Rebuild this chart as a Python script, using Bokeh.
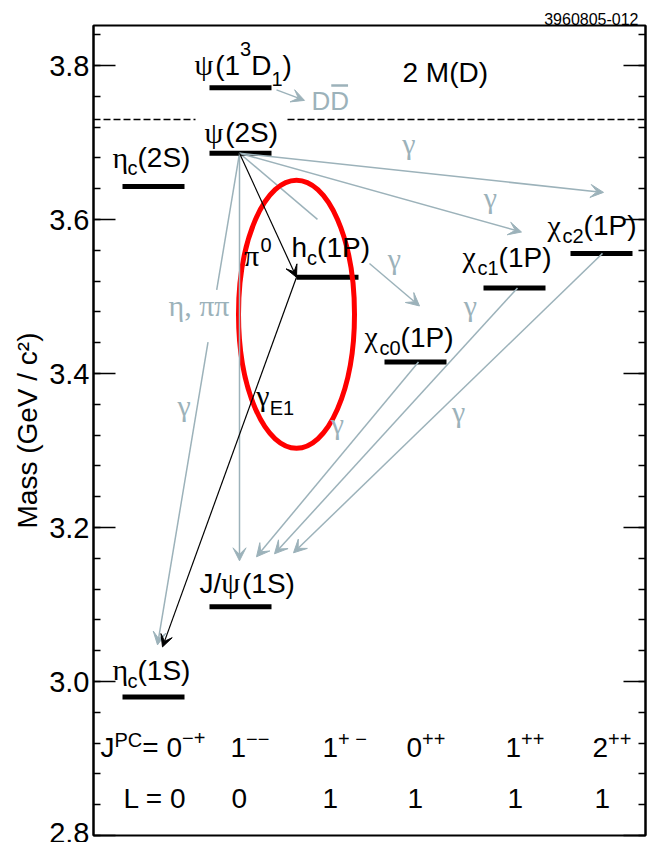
from bokeh.plotting import figure
from bokeh.models import (Range1d, LinearAxis, FixedTicker, PrintfTickFormatter,
                          Arrow, VeeHead, ColumnDataSource)
from bokeh.core.properties import value
from bokeh.embed import file_html
from bokeh.resources import INLINE

# ---------------- data ----------------
level_keys = ["etac1S", "Jpsi", "etac2S", "psi2S", "psi3770", "hc", "chic0", "chic1", "chic2"]
level_mass = [2.980, 3.097, 3.643, 3.686, 3.771, 3.525, 3.415, 3.511, 3.556]   # GeV/c^2
level_column = [0, 1, 0, 1, 1, 2, 3, 4, 5]
level_labels = [
    [("η", "g"), ("c", "sub"), ("(1S)", "n")],
    [("J/", "n"), ("ψ", "g"), ("(1S)", "n")],
    [("η", "g"), ("c", "sub"), ("(2S)", "n")],
    [("ψ", "g"), ("(2S)", "n")],
    [("ψ", "g"), ("(1", "n"), ("3", "sup", 19), ("D", "n"), ("1", "sub", 11), (")", "n")],
    [("h", "n"), ("c", "sub"), ("(1P)", "n")],
    [("χ", "g"), ("c0", "sub"), ("(1P)", "n")],
    [("χ", "g"), ("c1", "sub"), ("(1P)", "n")],
    [("χ", "g"), ("c2", "sub"), ("(1P)", "n")],
]
dd_threshold = 3.730          # 2 M(D)
dd_label = [("2 M(D)", "n")]

trans_from = ["psi2S", "psi2S", "psi2S", "psi2S", "psi2S", "psi2S", "hc", "chic0", "chic1", "chic2", "psi3770"]
trans_to = ["chic2", "chic1", "chic0", "hc", "Jpsi", "etac1S", "etac1S", "Jpsi", "Jpsi", "Jpsi", "DDbar"]
trans_black = [False, False, False, True, False, False, True, False, False, False, False]
trans_labels = [
    [("γ", "g")], [("γ", "g")], [("γ", "g")],
    [("π", "g"), ("0", "sup", 13)],
    [("η, ππ", "g")],
    [("γ", "g")],
    [("γ", "g"), ("E1", "sub", 10)],
    [("γ", "g")], [("γ", "g")], [("γ", "g")],
    [("DD", "n")],
]

y_ticks = [2.8, 3.0, 3.2, 3.4, 3.6, 3.8]
jpc_main = ["0", "1", "1", "0", "1", "2"]
jpc_sup = ["−+", "−−", "+ −", "++", "++", "++"]
l_values = ["0", "0", "1", "1", "1", "1"]
figure_id = "3960805-012"

# ---------------- layout ----------------
PX = 1.0 / 770.0                 # GeV per frame pixel
FRAME_H = 810
Y_LO = 2.8
Y_HI = Y_LO + FRAME_H * PX
X_LO, X_HI = 93, 645             # x data units == pixels
col_center = [153, 240, 327, 415, 514, 601]
BAR_HALF = 31
GRAY = "#9cb2ba"
SANS = "Liberation Sans"
SERIF = "Liberation Serif"
MID = {SANS: 0.347, SERIF: 0.338}   # em-box centre above baseline
FS = 28

label_anchor = {  # (dx from bar left, baseline px above bar)
    "etac1S": (-10, 17), "Jpsi": (-10, 14), "etac2S": (-10, 19), "psi2S": (-5, 11),
    "psi3770": (-15, 13), "hc": (-5, 20), "chic0": (-20, 15), "chic1": (-21, 21), "chic2": (-23, 18),
}
# (start dx from bar left, start lift px, end dx from target bar left, end lift px)
trans_geom = [
    (30, 0, 33, 61), (30, 0, 38, 56), (30, 0, 35, 56), (30, 0, 0, 0), (30, 0, 30, 46),
    (30, 0, 35, 52), (0, 0, 40, 50), (34, 0, 47, 50), (34, 0, 65, 53), (32, 0, 84, 54),
    (67, -2, 95, 19),
]
trans_gap = {2: (0.433, 0.722), 5: (0.278, 0.384)}
# label placement: (t along line, dx px, dy px down, mode) ; "c" = centred glyph, "l" = left/baseline
trans_lab_pos = [
    (0.466, 0, -21, "c"), (0.89, 0, -19, "c"), (0.861, 0, -20, "c"),
    (0.903, -47, 0, "l"), (0.398, -71, 0, "l"), (0.526, -12, 0, "c"),
    (0.346, 6, 0, "l"), (0.5, 0, -29, "c"), (0.193, 0, -27, "c"), (0.465, 0, 26, "c"),
    (1.0, 7, 10, "l"),
]

SANS_W = {**{d: 0.556 for d in "0123456789"}, "(": .333, ")": .333, "S": .667, "P": .667,
          "D": .722, "J": .5, "/": .278, "c": .5, "h": .556, "E": .667, "L": .556, "=": .584,
          "+": .584, "−": .584, " ": .278, ",": .278, "C": .722, "M": .833}
SERIF_W = {"ψ": .69, "η": .5, "χ": .5, "γ": .45, "π": .55, ",": .25, " ": .25}

rows = {SANS: [], SERIF: []}


def seg_width(txt, fs, serif):
    tab = SERIF_W if serif else SANS_W
    return sum(tab.get(ch, 0.55) for ch in txt) * fs


def rich(x, y, segs, color="black", size=FS, gsize=None, measure_only=False):
    """Place a label whose alphabetic baseline is at data y, left edge at x."""
    gsize = gsize or size + 2
    cx = x
    for seg in segs:
        txt, kind = seg[0], seg[1]
        serif = kind == "g"
        if kind in ("n", "g"):
            fs, dy = (gsize if serif else size), 0
        elif kind == "sub":
            fs, dy = round(size * 0.7), (seg[2] if len(seg) > 2 else 8)
        else:
            fs, dy = round(size * 0.7), -(seg[2] if len(seg) > 2 else 12)
        font = SERIF if serif else SANS
        if not measure_only:
            rows[font].append(dict(x=cx, y=y + (MID[font] * fs - dy) * PX, text=txt,
                                   size=f"{fs}px", color=color))
        cx += seg_width(txt, fs, serif)
    return cx - x


p = figure(width=656, height=842, x_range=Range1d(X_LO, X_HI), y_range=Range1d(Y_LO, Y_HI),
           output_backend="svg", toolbar_location=None, x_axis_location=None,
           y_axis_location="left", min_border_left=93, min_border_right=11,
           min_border_top=25, min_border_bottom=7)
p.grid.visible = False
p.outline_line_color = "black"
p.outline_line_width = 2
p.background_fill_color = "white"
p.border_fill_color = "white"
p.title.text = figure_id
p.title.align = "right"
p.title.text_font = SANS
p.title.text_font_size = "16px"
p.title.text_font_style = "normal"
p.title.text_color = "black"
p.title.standoff = 1
p.title.offset = 7

minor = [round(2.8 + 0.04 * i, 2) for i in range(27)]
ly = p.yaxis[0]
ly.ticker = FixedTicker(ticks=y_ticks, minor_ticks=minor)
ly.formatter = PrintfTickFormatter(format="%.1f")
ly.major_tick_in = 22
ly.major_tick_out = 0
ly.minor_tick_in = 7
ly.minor_tick_out = 0
ly.major_tick_line_width = 1.5
ly.minor_tick_line_width = 1.5
ly.axis_line_width = 2
ly.major_label_text_font = SANS
ly.major_label_text_color = "black"
ly.major_label_text_font_size = "29px"
ly.major_label_standoff = 4
ly.axis_label = "Mass (GeV / c²)"
ly.axis_label_text_font = SANS
ly.axis_label_text_font_size = "28px"
ly.axis_label_text_font_style = "normal"
ly.axis_label_text_color = "black"
ly.axis_label_standoff = 3
rax = LinearAxis(ticker=FixedTicker(ticks=y_ticks, minor_ticks=minor),
                 major_label_overrides={t: "" for t in y_ticks},
                 major_tick_in=22, major_tick_out=0,
                 minor_tick_in=7, minor_tick_out=0, major_tick_line_width=1.5,
                 minor_tick_line_width=1.5, axis_line_width=2, major_label_standoff=0)
p.add_layout(rax, "right")

lev = {k: (m, c) for k, m, c in zip(level_keys, level_mass, level_column)}


def bar_left(k):
    if k == "DDbar":
        return bar_left("psi3770")
    return col_center[lev[k][1]] - BAR_HALF


def mass(k):
    return dd_threshold if k == "DDbar" else lev[k][0]


# threshold dashed line (gap behind psi(2S) label)
p.segment(x0=[X_LO, 287], x1=[195, X_HI], y0=[dd_threshold] * 2, y1=[dd_threshold] * 2,
          line_color="black", line_width=1.5, line_dash="7 3")
rich(402, dd_threshold + 37 * PX, dd_label)

# transitions
gray_src, black_src = dict(xs=[], ys=[], xe=[], ye=[]), dict(xs=[], ys=[], xe=[], ye=[])
plain = dict(x0=[], y0=[], x1=[], y1=[], c=[])
for i, (f, t) in enumerate(zip(trans_from, trans_to)):
    sdx, slift, edx, elift = trans_geom[i]
    xs, ys = bar_left(f) + sdx, mass(f) + slift * PX
    xe, ye = bar_left(t) + edx, mass(t) + elift * PX
    col = "black" if trans_black[i] else GRAY
    ax0, ay0 = xs, ys
    if i in trans_gap:
        t1, t2 = trans_gap[i]
        plain["x0"].append(xs); plain["y0"].append(ys)
        plain["x1"].append(xs + t1 * (xe - xs)); plain["y1"].append(ys + t1 * (ye - ys))
        plain["c"].append(col)
        ax0, ay0 = xs + t2 * (xe - xs), ys + t2 * (ye - ys)
    src = black_src if trans_black[i] else gray_src
    src["xs"].append(ax0); src["ys"].append(ay0); src["xe"].append(xe); src["ye"].append(ye)
    # label
    tt, dx, dy, mode = trans_lab_pos[i]
    lx, lyy = xs + tt * (xe - xs) + dx, ys + tt * (ye - ys) - dy * PX
    lcol = "black" if trans_black[i] else GRAY
    segs = trans_labels[i]
    if mode == "c":
        w = rich(0, 0, segs, size=FS, gsize=30, measure_only=True)
        rich(lx - w / 2, lyy - 3.5 * PX, segs, color=lcol, gsize=30)
    else:
        size = 26 if segs[0][0] == "DD" else FS
        w = rich(lx, lyy, segs, color=lcol, size=size, gsize=30)
        if segs[0][0] == "DD":
            dw = seg_width("D", size, False)
            p.segment(x0=[lx + dw + 1], x1=[lx + 2 * dw - 1], y0=[lyy + 25 * PX], y1=[lyy + 25 * PX],
                      line_color=GRAY, line_width=2.5)

p.segment(x0="x0", y0="y0", x1="x1", y1="y1", line_color="c", line_width=1.5,
          source=ColumnDataSource(plain))
p.add_layout(Arrow(end=VeeHead(size=13, fill_color=GRAY, line_color=GRAY, line_width=1),
                   x_start="xs", y_start="ys", x_end="xe", y_end="ye", line_color=GRAY,
                   line_width=1.5, source=ColumnDataSource(gray_src)))
p.add_layout(Arrow(end=VeeHead(size=12, fill_color="black", line_color="black", line_width=1),
                   x_start="xs", y_start="ys", x_end="xe", y_end="ye", line_color="black",
                   line_width=1.2, source=ColumnDataSource(black_src)))

# levels
bx0 = [bar_left(k) for k in level_keys]
p.segment(x0=bx0, x1=[b + 2 * BAR_HALF for b in bx0], y0=level_mass, y1=level_mass,
          line_color="black", line_width=5, line_cap="butt")
for k, segs in zip(level_keys, level_labels):
    dx, lift = label_anchor[k]
    rich(bar_left(k) + dx, mass(k) + lift * PX, segs, gsize=30)

# quantum numbers rows
jpc_x = [100, 230, 322, 406, 505, 592]
l_x = [123, 231, 322, 407, 507, 594]
row_jpc = Y_LO + 78 * PX
row_l = Y_LO + 27 * PX
for i in range(6):
    segs = [(jpc_main[i], "n"), (jpc_sup[i], "sup")]
    if i == 0:
        segs = [("J", "n"), ("PC", "sup", 11), ("= " + jpc_main[i], "n"), (jpc_sup[i], "sup", 13)]
    rich(jpc_x[i], row_jpc, segs)
    rich(l_x[i], row_l, [(("L = " if i == 0 else "") + l_values[i], "n")])

# highlight ellipse around h_c
p.ellipse(x=[bar_left("hc")], y=[mass("hc") - 37 * PX], width=[116], height=[268 * PX],
          fill_color=None, line_color="#ff0000", line_width=5)

for font, rs in rows.items():
    src = ColumnDataSource({k: [r[k] for r in rs] for k in ("x", "y", "text", "size", "color")})
    p.text(x="x", y="y", text="text", text_font_size="size", text_color="color",
           text_font=value(font), text_align="left", text_baseline="middle", source=src)

open("out.html", "w").write(file_html(p, INLINE))
